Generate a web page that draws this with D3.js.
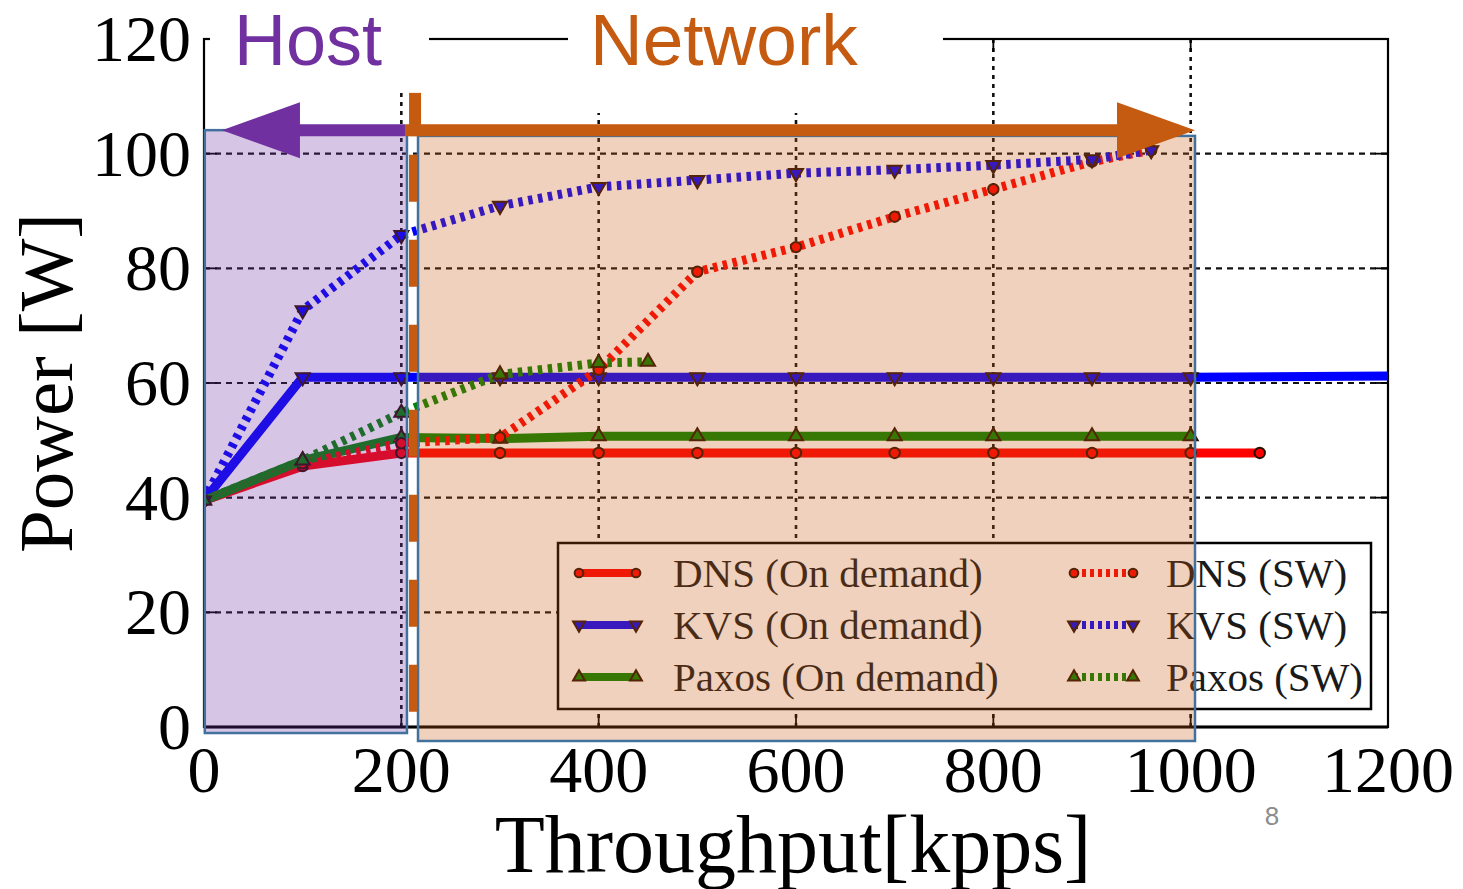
<!DOCTYPE html>
<html>
<head>
<meta charset="utf-8">
<script src="https://cdn.jsdelivr.net/npm/d3@7"></script>
<style>
  html, body { margin: 0; padding: 0; background: #fff; }
  svg { display: block; }
</style>
</head>
<body>
<svg id="chart" width="1463" height="889"></svg>
<script>
// ---- data -------------------------------------------------------------
const xTicks = [0, 200, 400, 600, 800, 1000, 1200];
const yTicks = [0, 20, 40, 60, 80, 100, 120];

const dnsDemandX   = [0, 100, 200, 300, 400, 500, 600, 700, 800, 900, 1000, 1070];
const dnsDemandY   = [39.5, 45.5, 47.8, 47.8, 47.8, 47.8, 47.8, 47.8, 47.8, 47.8, 47.8, 47.8];
const kvsDemandX   = [0, 100, 200, 300, 400, 500, 600, 700, 800, 900, 1000, 1250];
const kvsDemandY   = [39.5, 61, 61, 61, 61, 61, 61, 61, 61, 61, 61, 61.3];
const paxosDemandX = [0, 100, 200, 300, 400, 500, 600, 700, 800, 900, 1000];
const paxosDemandY = [39.5, 46.5, 50.5, 50.3, 50.7, 50.7, 50.7, 50.7, 50.7, 50.7, 50.7];

const dnsSwX   = [0, 100, 200, 300, 400, 500, 600, 700, 800, 900, 960];
const dnsSwY   = [39.5, 46, 49.5, 50.5, 62.3, 79.4, 83.7, 89, 93.8, 98.6, 100.6];
const kvsSwX   = [0, 100, 200, 300, 400, 500, 600, 700, 800, 900, 960];
const kvsSwY   = [39.5, 72.7, 85.8, 90.9, 94.2, 95.4, 96.6, 97.2, 98, 99, 100.6];
const paxosSwX = [0, 100, 200, 300, 400, 450];
const paxosSwY = [39.5, 46.5, 54.8, 61.5, 63.5, 63.7];

const legendLabels = ["DNS (On demand)", "KVS (On demand)", "Paxos (On demand)",
                      "DNS (SW)", "KVS (SW)", "Paxos (SW)"];

// Host / Network regions, in axis units
const hostSpan = [0.8, 205.7], hostY = [-1.05, 104.1];
const netSpan = [216.9, 1004.4], netY = [-2.44, 103.1];
const arrowLevel = 104.1;
const hostArrowTip = 18.2, splitX = 203.7;
const dividerX = 211.8, dividerY = [99.8, 1.2];
const barX = 213.9, barTop = 110.6;

// ---- layout -----------------------------------------------------------
const svg = d3.select("#chart");
const M = { left: 204, top: 39, right: 1388, bottom: 727 };
const x = d3.scaleLinear().domain([0, 1200]).range([M.left, M.right]);
const y = d3.scaleLinear().domain([0, 120]).range([M.bottom, M.top]);

const RED = "#ff0000", BLUE = "#0000ff", GREEN = "#008400";
const series = [
  { xs: dnsDemandX,   ys: dnsDemandY,   color: RED,   dotted: false, sym: d3.symbolCircle,   rot: 0 },
  { xs: kvsDemandX,   ys: kvsDemandY,   color: BLUE,  dotted: false, sym: d3.symbolTriangle, rot: 180 },
  { xs: paxosDemandX, ys: paxosDemandY, color: GREEN, dotted: false, sym: d3.symbolTriangle, rot: 0 },
  { xs: dnsSwX,       ys: dnsSwY,       color: RED,   dotted: true,  sym: d3.symbolCircle,   rot: 0 },
  { xs: kvsSwX,       ys: kvsSwY,       color: BLUE,  dotted: true,  sym: d3.symbolTriangle, rot: 180 },
  { xs: paxosSwX,     ys: paxosSwY,     color: GREEN, dotted: true,  sym: d3.symbolTriangle, rot: 0 }
];

svg.append("rect").attr("width", 1463).attr("height", 889).attr("fill", "#fff");

const defs = svg.append("defs");
defs.append("clipPath").attr("id", "plot-clip")
  .append("rect")
  .attr("x", M.left).attr("y", M.top)
  .attr("width", M.right - M.left).attr("height", M.bottom - M.top);

// ---- grid -------------------------------------------------------------
const grid = svg.append("g");
grid.selectAll("line.h").data(yTicks.slice(1, -1)).join("line")
  .attr("x1", M.left).attr("x2", M.right)
  .attr("y1", d => y(d)).attr("y2", d => y(d))
  .attr("stroke", "#111").attr("stroke-width", 2.2).attr("stroke-dasharray", "6,5");
grid.selectAll("line.v").data(xTicks.slice(1, -1)).join("line")
  .attr("y1", M.top).attr("y2", M.bottom)
  .attr("x1", d => x(d)).attr("x2", d => x(d))
  .attr("stroke", "#111").attr("stroke-width", 2.6).attr("stroke-dasharray", "4,5");

// ---- frame and inward ticks ------------------------------------------
const frame = svg.append("g").attr("stroke", "#000");
frame.append("rect")
  .attr("x", M.left).attr("y", M.top)
  .attr("width", M.right - M.left).attr("height", M.bottom - M.top)
  .attr("fill", "none").attr("stroke-width", 2.2);
frame.append("line").attr("x1", M.left).attr("x2", M.right)
  .attr("y1", M.bottom).attr("y2", M.bottom).attr("stroke-width", 3);
const T = 13;
xTicks.forEach(t => {
  frame.append("line").attr("x1", x(t)).attr("x2", x(t)).attr("y1", M.bottom).attr("y2", M.bottom - T).attr("stroke-width", 1.8);
  frame.append("line").attr("x1", x(t)).attr("x2", x(t)).attr("y1", M.top).attr("y2", M.top + T).attr("stroke-width", 1.8);
});
yTicks.forEach(t => {
  frame.append("line").attr("x1", M.left).attr("x2", M.left + T).attr("y1", y(t)).attr("y2", y(t)).attr("stroke-width", 1.8);
  frame.append("line").attr("x1", M.right).attr("x2", M.right - T).attr("y1", y(t)).attr("y2", y(t)).attr("stroke-width", 1.8);
});

// ---- series: solid "on demand" lines first, dotted software lines on top
const plot = svg.append("g").attr("clip-path", "url(#plot-clip)");
function symbolPath(s, size) { return d3.symbol().type(s.sym).size(size)(); }

series.forEach(s => {
  const pts = s.xs.map((v, k) => [v, s.ys[k]]);
  const line = d3.line().x(d => x(d[0])).y(d => y(d[1])).curve(d3.curveLinear);
  plot.append("path").datum(pts)
    .attr("d", line)
    .attr("fill", "none")
    .attr("stroke", s.color)
    .attr("stroke-width", 9)
    .attr("stroke-linejoin", "round")
    .attr("stroke-dasharray", s.dotted ? "4.5,5.5" : null);
  plot.selectAll(null).data(pts).join("path")
    .attr("d", symbolPath(s, 85))
    .attr("transform", d => `translate(${x(d[0])},${y(d[1])}) rotate(${s.rot})`)
    .attr("fill", s.color)
    .attr("stroke", "#2a0e00")
    .attr("stroke-width", 2);
});

// ---- legend -----------------------------------------------------------
const legend = svg.append("g");
legend.append("rect")
  .attr("x", 558).attr("y", 543).attr("width", 813).attr("height", 166)
  .attr("fill", "#fff").attr("stroke", "#000").attr("stroke-width", 2.5);
const rowY = [573, 625, 677];
const cols = [{ x0: 579, x1: 636, tx: 673 }, { x0: 1074, x1: 1133, tx: 1166 }];
series.forEach((s, i) => {
  const c = cols[i < 3 ? 0 : 1];
  const ry = rowY[i % 3];
  legend.append("line")
    .attr("x1", c.x0).attr("x2", c.x1).attr("y1", ry).attr("y2", ry)
    .attr("stroke", s.color).attr("stroke-width", 8)
    .attr("stroke-dasharray", s.dotted ? "4,4" : null);
  [c.x0, c.x1].forEach(px => {
    legend.append("path")
      .attr("d", symbolPath(s, 60))
      .attr("transform", `translate(${px},${ry}) rotate(${s.rot})`)
      .attr("fill", s.color).attr("stroke", "#2a0e00").attr("stroke-width", 2);
  });
  legend.append("text")
    .attr("x", c.tx).attr("y", ry + 14)
    .attr("font-family", "'Liberation Serif', 'DejaVu Serif', serif")
    .attr("font-size", 41)
    .attr("fill", "#1a1a1a")
    .text(legendLabels[i]);
});

// ---- Host / Network regions ------------------------------------------
const BORDER = "#41719c";
svg.append("rect")
  .attr("x", x(hostSpan[0])).attr("y", y(hostY[1]))
  .attr("width", x(hostSpan[1]) - x(hostSpan[0]))
  .attr("height", y(hostY[0]) - y(hostY[1]))
  .attr("fill", "rgba(112,48,160,0.28)")
  .attr("stroke", BORDER).attr("stroke-width", 2.5);
svg.append("rect")
  .attr("x", x(netSpan[0])).attr("y", y(netY[1]))
  .attr("width", x(netSpan[1]) - x(netSpan[0]))
  .attr("height", y(netY[0]) - y(netY[1]))
  .attr("fill", "rgba(197,90,17,0.28)")
  .attr("stroke", BORDER).attr("stroke-width", 2.5);

const PURPLE = "#7030a0", ORANGE = "#c55a11";
// dashed boundary between the two regions
svg.append("line")
  .attr("x1", x(dividerX)).attr("x2", x(dividerX))
  .attr("y1", y(dividerY[0])).attr("y2", y(dividerY[1]))
  .attr("stroke", ORANGE).attr("stroke-width", 8)
  .attr("stroke-dasharray", "47,38");

// arrows
function arrow(fromX, toX, level, color) {
  const ax = x(fromX), tx = x(toX), ay = y(level);
  const dir = Math.sign(tx - ax);
  const headLen = 78, headHalf = 28, half = 6;
  const hx = tx - dir * headLen;
  const p = [[ax, ay - half], [hx, ay - half], [hx, ay - headHalf], [tx, ay],
             [hx, ay + headHalf], [hx, ay + half], [ax, ay + half]];
  svg.append("path").attr("d", "M" + p.map(q => q.join(",")).join("L") + "Z").attr("fill", color);
}
arrow(splitX, hostArrowTip, arrowLevel, PURPLE);
arrow(splitX, netSpan[1], arrowLevel, ORANGE);
svg.append("rect")
  .attr("x", x(barX) - 6).attr("y", y(barTop))
  .attr("width", 12).attr("height", y(arrowLevel) + 6 - y(barTop))
  .attr("fill", ORANGE);

// region titles on white boxes over the top border
svg.append("rect").attr("x", 210).attr("y", 0).attr("width", 219).attr("height", 92).attr("fill", "#fff");
svg.append("rect").attr("x", 568).attr("y", 0).attr("width", 375).attr("height", 113).attr("fill", "#fff");
svg.append("text").attr("x", 234).attr("y", 65)
  .attr("font-family", "'Liberation Sans', Arial, sans-serif").attr("font-size", 72)
  .attr("fill", PURPLE).text("Host");
svg.append("text").attr("x", 590).attr("y", 65)
  .attr("font-family", "'Liberation Sans', Arial, sans-serif").attr("font-size", 73)
  .attr("fill", ORANGE).text("Network");

// ---- axis labels ------------------------------------------------------
const serif = "'Liberation Serif', 'DejaVu Serif', serif";
svg.append("g").selectAll("text").data(yTicks).join("text")
  .attr("x", 191).attr("y", d => y(d) + 22)
  .attr("text-anchor", "end")
  .attr("font-family", serif).attr("font-size", 66).attr("fill", "#000")
  .text(d => d);
svg.append("g").selectAll("text").data(xTicks).join("text")
  .attr("x", d => x(d)).attr("y", 792)
  .attr("text-anchor", "middle")
  .attr("font-family", serif).attr("font-size", 66).attr("fill", "#000")
  .text(d => d);

svg.append("text")
  .attr("transform", "translate(72,383) rotate(-90)")
  .attr("text-anchor", "middle")
  .attr("font-family", serif).attr("font-size", 77).attr("fill", "#000")
  .text("Power [W]");
svg.append("text")
  .attr("x", 793).attr("y", 872)
  .attr("text-anchor", "middle")
  .attr("font-family", serif).attr("font-size", 82).attr("fill", "#000")
  .text("Throughput[kpps]");

// page number
svg.append("text")
  .attr("x", 1272).attr("y", 825).attr("text-anchor", "middle")
  .attr("font-family", "'Liberation Sans', Arial, sans-serif").attr("font-size", 26)
  .attr("fill", "#8c8c8c").text("8");
</script>
</body>
</html>
